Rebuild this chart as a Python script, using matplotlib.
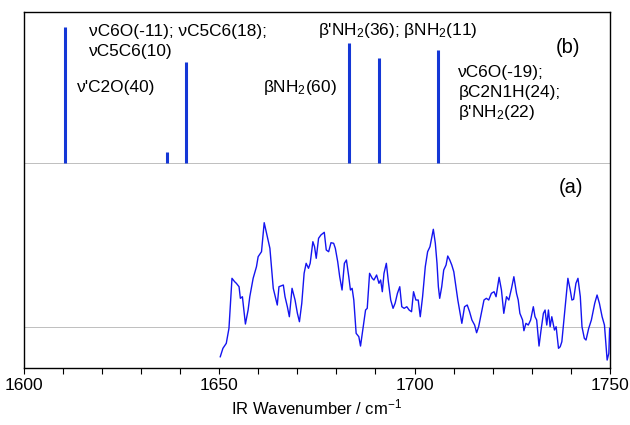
import matplotlib
matplotlib.use("Agg")
import matplotlib.pyplot as plt
import numpy as np

plt.rcParams['font.family'] = ['Liberation Sans', 'DejaVu Sans']
plt.rcParams['mathtext.fontset'] = 'custom'
plt.rcParams['mathtext.rm'] = 'Liberation Sans'
plt.rcParams['mathtext.it'] = 'Liberation Sans:italic'

# (b) calculated stick spectrum
stick_pos = [1610.5, 1636.5, 1641.6, 1683.2, 1691.0, 1706.0]
stick_int = [13.6, 1.1, 10.1, 12.0, 10.5, 11.3]

# (a) experimental IR trace
ir_wn = [1650.26, 1650.94, 1651.80, 1652.49, 1653.26, 1653.95, 1654.38, 1655.07, 1655.41, 1655.93,
         1656.70, 1657.39, 1657.82, 1658.68, 1659.53, 1659.96, 1660.82, 1661.51, 1662.11, 1662.97,
         1663.83, 1664.86, 1665.29, 1666.41, 1666.84, 1667.44, 1667.95, 1668.64, 1669.41, 1670.01,
         1670.53, 1671.13, 1671.73, 1672.25, 1672.85, 1673.28, 1673.97, 1674.40, 1674.83, 1675.43,
         1676.03, 1676.89, 1677.40, 1678.01, 1678.61, 1679.29, 1679.72, 1680.33, 1680.84, 1681.44,
         1682.04, 1682.56, 1683.16, 1683.59, 1684.02, 1684.45, 1685.05, 1685.74, 1686.17, 1686.86,
         1687.46, 1687.89, 1688.49, 1689.17, 1689.60, 1690.29, 1690.89, 1691.32, 1691.75, 1692.18,
         1692.78, 1693.30, 1693.90, 1694.50, 1695.02, 1695.62, 1696.22, 1696.73, 1697.34, 1698.02,
         1698.62, 1699.23, 1699.74, 1700.34, 1700.94, 1701.46, 1702.06, 1702.75, 1703.35, 1703.95,
         1704.81, 1705.32, 1705.75, 1706.10, 1706.44, 1706.96, 1707.47, 1708.07, 1708.50, 1709.02,
         1709.53, 1710.05, 1710.65, 1711.08, 1711.51, 1712.11, 1712.80, 1713.49, 1714.09, 1714.69,
         1715.38, 1715.89, 1716.41, 1717.10, 1717.78, 1718.38, 1718.99, 1719.67, 1720.36, 1720.87,
         1721.65, 1722.25, 1722.85, 1723.54, 1724.14, 1724.83, 1725.43, 1726.11, 1726.54, 1726.97,
         1727.66, 1728.00, 1728.52, 1729.12, 1729.72, 1730.41, 1730.84, 1731.27, 1731.87, 1732.39,
         1732.99, 1733.42, 1733.85, 1734.28, 1734.71, 1735.14, 1735.82, 1736.25, 1736.86, 1737.29,
         1737.71, 1738.57, 1739.26, 1739.86, 1740.29, 1740.72, 1741.32, 1741.84, 1742.44, 1742.87,
         1743.47, 1743.90, 1744.59, 1745.27, 1746.13, 1746.73, 1747.33, 1748.02, 1748.62, 1749.05,
         1749.31, 1749.74, 1749.95]
ir_int = [-2.97, -2.13, -1.63, -0.13, 4.87, 4.53, 4.37, 4.03, 2.87, 3.03,
          0.30, 1.70, 3.03, 4.87, 6.03, 7.03, 7.53, 10.43, 9.37, 7.87,
          3.87, 2.20, 4.03, 4.20, 3.03, 2.03, 1.03, 3.87, 2.70, 1.37,
          0.53, 2.37, 5.37, 6.37, 5.87, 6.37, 8.53, 8.03, 6.87, 8.87,
          9.20, 9.47, 7.70, 7.53, 8.43, 8.37, 7.87, 6.53, 5.03, 3.70,
          6.37, 6.70, 5.03, 3.70, 3.87, 2.70, -0.63, -0.97, -1.90, 0.03,
          1.70, 1.87, 5.37, 4.87, 4.70, 5.20, 4.37, 4.70, 3.53, 5.37,
          6.37, 4.53, 2.70, 1.87, 2.37, 3.37, 4.03, 2.03, 1.87, 2.03,
          1.70, 1.53, 3.53, 2.70, 2.70, 1.03, 3.03, 6.03, 7.53, 8.03,
          9.77, 8.37, 6.37, 4.03, 2.87, 4.03, 5.70, 6.20, 7.10, 6.70,
          6.20, 5.53, 3.87, 2.70, 1.70, 0.37, 2.03, 2.20, 1.53, 0.70,
          0.20, -0.57, 0.03, 1.37, 2.70, 2.87, 2.70, 3.37, 3.53, 3.03,
          4.97, 3.70, 1.37, 3.03, 2.70, 3.87, 5.03, 3.37, 2.70, 1.37,
          0.70, -0.37, 0.37, 0.20, 0.70, 2.03, 1.03, 0.70, -1.90, -0.30,
          1.37, 1.70, 0.20, 1.70, 0.03, 1.03, -0.30, 0.03, -2.13, -1.97,
          -1.47, 2.03, 4.87, 3.70, 2.70, 2.77, 4.37, 4.87, 3.03, 0.03,
          -1.13, -1.30, -0.13, 0.70, 2.37, 3.20, 2.37, 1.03, 0.20, -1.97,
          -3.30, -2.63, -0.13]

base_b = 20.5
base_a = 4.1

fig = plt.figure(figsize=(6.3, 4.25), dpi=100)
ax = fig.add_axes([0.038, 0.134, 0.93, 0.838])
ax.set_xlim(1600, 1750)
ax.set_ylim(0, 35.6)

ax.axhline(base_b, color='#b4b4b4', lw=0.6, zorder=1)
ax.axhline(base_a, color='#b4b4b4', lw=0.6, zorder=1)

ax.vlines(stick_pos, base_b, [base_b + v for v in stick_int], color='#1437d6', lw=2.2, zorder=3)
ax.plot(ir_wn, [base_a + v for v in ir_int], color='#1414f0', lw=1.0, zorder=3)

fs = 12.4
ax.text(1616.7, 33.6, "νC6O(-11); νC5C6(18);", fontsize=fs, va='center', ha='left')
ax.text(1616.7, 31.6, "νC5C6(10)", fontsize=fs, va='center', ha='left')
ax.text(1613.6, 28.0, "ν'C2O(40)", fontsize=fs, va='center', ha='left')
ax.text(1661.2, 28.0, "βNH$_2$(60)", fontsize=fs, va='center', ha='left')
ax.text(1675.4, 33.7, "β'NH$_2$(36); βNH$_2$(11)", fontsize=fs, va='center', ha='left')
ax.text(1711.2, 29.5, "νC6O(-19);", fontsize=fs, va='center', ha='left')
ax.text(1711.2, 27.5, "βC2N1H(24);", fontsize=fs, va='center', ha='left')
ax.text(1711.2, 25.5, "β'NH$_2$(22)", fontsize=fs, va='center', ha='left')
ax.text(1739.2, 32.0, "(b)", fontsize=14.5, va='center', ha='center')
ax.text(1740.0, 18.0, "(a)", fontsize=14.5, va='center', ha='center')

ax.set_xticks([1600, 1650, 1700, 1750])
ax.set_xticks(np.arange(1600, 1751, 10), minor=True)
ax.tick_params(axis='x', which='both', direction='out', length=4, width=0.8, labelsize=12.5)
ax.set_yticks([])
ax.set_xlabel("IR Wavenumber / cm$^{-1}$", fontsize=12, labelpad=3)
for s in ax.spines.values():
    s.set_linewidth(1.0)

fig.savefig("out.png", dpi=100)
